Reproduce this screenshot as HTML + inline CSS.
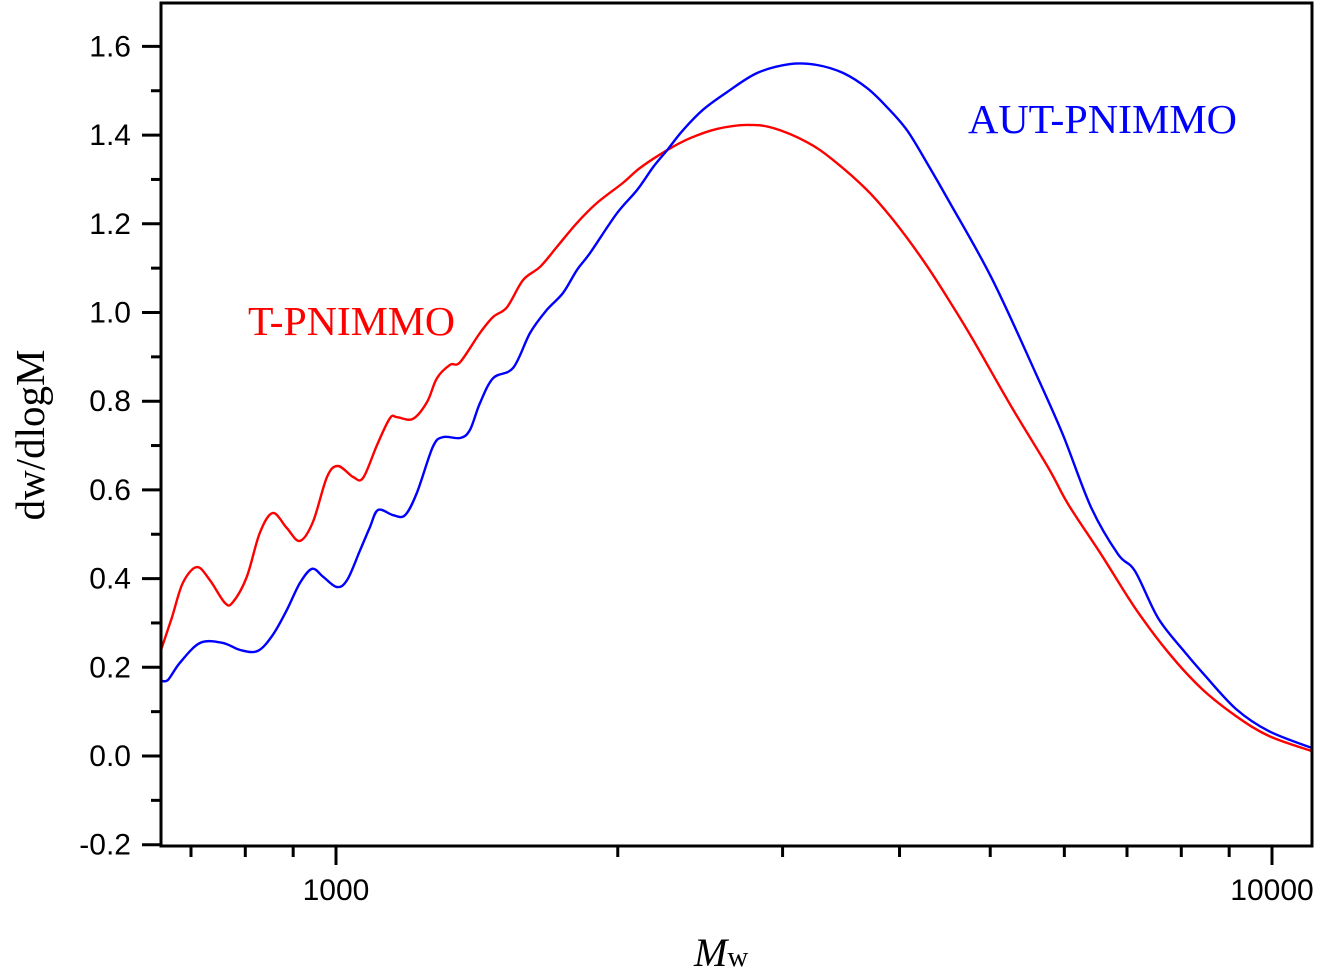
<!DOCTYPE html>
<html><head><meta charset="utf-8"><style>
html,body{margin:0;padding:0;background:#fff;}
svg{display:block;}
</style></head><body>
<svg id="chart" width="1323" height="968" viewBox="0 0 1323 968" xmlns="http://www.w3.org/2000/svg">
<g id="marks"></g>
<g id="axes"></g>
<text x="248" y="335" font-family="Liberation Serif, serif" font-size="41" fill="#ff0000" textLength="207" lengthAdjust="spacingAndGlyphs">T-PNIMMO</text>
<text x="968" y="133" font-family="Liberation Serif, serif" font-size="41" fill="#0000ff" textLength="269" lengthAdjust="spacingAndGlyphs">AUT-PNIMMO</text>
<text transform="translate(44,435) rotate(-90)" text-anchor="middle" font-family="Liberation Serif, serif" font-size="41" fill="#000">dw/dlogM</text>
<text x="694" y="966" font-family="Liberation Serif, serif" font-size="40" fill="#000"><tspan font-style="italic">M</tspan><tspan font-size="29">w</tspan></text>
</svg>
<script>
// Data
const redM = [649,668,686,710,733,761,776,803,829,856,886,915,945,978,1005,1043,1069,1106,1142,1162,1208,1251,1282,1324,1357,1425,1472,1523,1584,1652,1722,1809,1900,2025,2113,2258,2389,2553,2749,2931,3186,3396,3693,3937,4238,4529,4816,5276,5779,6055,6566,7139,7744,8419,9153,9926,11030];
const redY = [0.234,0.313,0.390,0.426,0.397,0.345,0.347,0.404,0.503,0.548,0.514,0.485,0.528,0.629,0.654,0.629,0.627,0.701,0.762,0.764,0.760,0.798,0.852,0.882,0.888,0.954,0.990,1.012,1.073,1.103,1.148,1.202,1.247,1.292,1.326,1.366,1.393,1.414,1.423,1.416,1.384,1.344,1.276,1.209,1.118,1.024,0.931,0.785,0.647,0.568,0.455,0.334,0.234,0.151,0.090,0.045,0.011];
const blueM = [649,661,681,716,757,790,825,856,886,915,943,969,1002,1028,1061,1087,1109,1151,1185,1220,1269,1301,1357,1390,1425,1472,1546,1612,1680,1748,1809,1868,1996,2097,2182,2258,2348,2466,2617,2818,3055,3265,3482,3693,3879,4074,4280,4529,5022,5597,5980,6407,6847,7139,7556,8072,8419,9153,9926,11030];
const blueY = [0.171,0.171,0.210,0.255,0.255,0.239,0.237,0.273,0.329,0.390,0.422,0.404,0.381,0.397,0.464,0.516,0.555,0.543,0.543,0.593,0.697,0.719,0.717,0.735,0.796,0.852,0.875,0.954,1.006,1.044,1.096,1.134,1.224,1.276,1.328,1.366,1.411,1.457,1.497,1.540,1.560,1.558,1.540,1.506,1.463,1.411,1.337,1.247,1.076,0.861,0.724,0.561,0.455,0.417,0.311,0.234,0.189,0.106,0.056,0.018];
const yTicks = [-0.2,0.0,0.2,0.4,0.6,0.8,1.0,1.2,1.4,1.6];
const yTickLabels = ["-0.2","0.0","0.2","0.4","0.6","0.8","1.0","1.2","1.4","1.6"];
const xMajor = [1000,10000];
const xMajorLabels = ["1000","10000"];
const xMinor = [700,800,900,2000,3000,4000,5000,6000,7000,8000,9000];

const L=161,R=1312,T=3,B=846;
function xs(m){return 336+(Math.log10(m)-3)*936;}
function ys(v){return 756-v*443.5;}
const NS="http://www.w3.org/2000/svg";
function mk(tag,attrs,parent){const e=document.createElementNS(NS,tag);for(const k in attrs)e.setAttribute(k,attrs[k]);parent.appendChild(e);return e;}
const svg=document.getElementById('chart');
const defs=mk('defs',{},svg);
const cp=mk('clipPath',{id:'plotclip'},defs);
mk('rect',{x:L,y:T,width:R-L,height:B-T},cp);
const marks=document.getElementById('marks');
marks.setAttribute('clip-path','url(#plotclip)');
function pathFrom(M,Y){
  const p=M.map((m,i)=>[xs(m),ys(Y[i])]);
  let d='M'+p[0][0].toFixed(1)+','+p[0][1].toFixed(1);
  for(let i=0;i<p.length-1;i++){
    const p0=p[Math.max(0,i-1)],p1=p[i],p2=p[i+1],p3=p[Math.min(p.length-1,i+2)];
    const c1=[p1[0]+(p2[0]-p0[0])/6,p1[1]+(p2[1]-p0[1])/6];
    const c2=[p2[0]-(p3[0]-p1[0])/6,p2[1]-(p3[1]-p1[1])/6];
    d+=' C'+c1[0].toFixed(1)+','+c1[1].toFixed(1)+' '+c2[0].toFixed(1)+','+c2[1].toFixed(1)+' '+p2[0].toFixed(1)+','+p2[1].toFixed(1);
  }
  return d;
}
const red=mk('path',{d:pathFrom(redM,redY),fill:'none',stroke:'#ff0000','stroke-width':2.4},marks);


const blue=mk('path',{d:pathFrom(blueM,blueY),fill:'none',stroke:'#0000ff','stroke-width':2.4},marks);



const axes=document.getElementById('axes');
const frame=mk('rect',{x:L,y:T,width:R-L,height:B-T,fill:'none',stroke:'#000','stroke-width':3},axes);


yTicks.forEach((v,i)=>{
  const y=ys(v);
  const t=mk('line',{x1:L-19,x2:L,y1:y,y2:y,stroke:'#000','stroke-width':3},axes);
  
  
  const lb=mk('text',{x:131,y:y+10,'text-anchor':'end','font-family':'Liberation Sans, sans-serif','font-size':30,fill:'#000'},axes);
  lb.textContent=yTickLabels[i];
  
  
  if(i<yTicks.length-1){
    const ym=ys(v+0.1);
    const m=mk('line',{x1:L-10,x2:L,y1:ym,y2:ym,stroke:'#000','stroke-width':3},axes);
    
    
  }
});
xMajor.forEach((m,i)=>{
  const x=xs(m);
  const t=mk('line',{x1:x,x2:x,y1:B,y2:B+19,stroke:'#000','stroke-width':3},axes);
  
  
  const lb=mk('text',{x:x,y:B+54,'text-anchor':'middle','font-family':'Liberation Sans, sans-serif','font-size':30,fill:'#000'},axes);
  lb.textContent=xMajorLabels[i];
  
  
});
xMinor.forEach(m=>{
  const x=xs(m);
  const t=mk('line',{x1:x,x2:x,y1:B,y2:B+11,stroke:'#000','stroke-width':3},axes);
  
  
});
</script>
</body></html>
